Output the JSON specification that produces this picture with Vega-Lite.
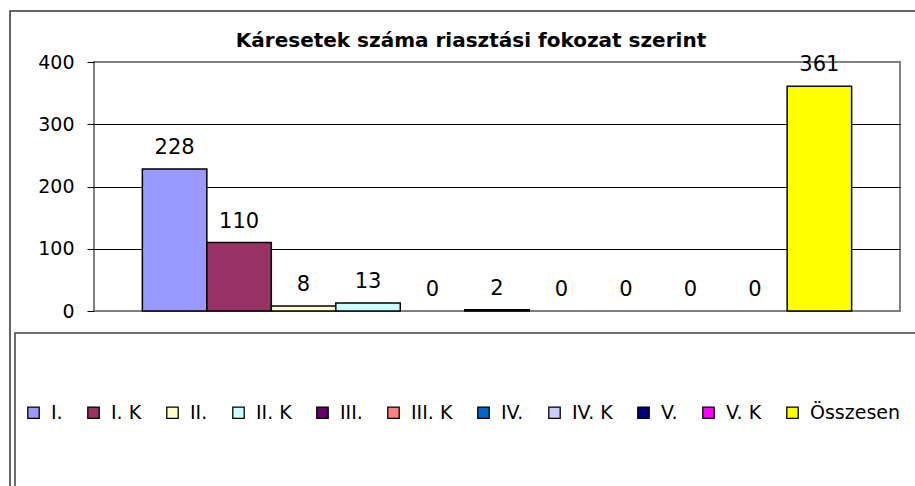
{
  "$schema": "https://vega.github.io/schema/vega-lite/v6.json",
  "width": 806,
  "height": 249,
  "autosize": {"type": "none"},
  "padding": {"left": 94, "top": 62, "right": 15, "bottom": 175},
  "background": "white",
  "title": {
    "text": "Káresetek száma riasztási fokozat szerint",
    "font": "DejaVu Sans",
    "fontSize": 20,
    "fontWeight": "bold",
    "color": "black",
    "anchor": "middle",
    "dx": -26,
    "dy": 63,
    "offset": 6,
    "baseline": "alphabetic"
  },
  "data": {
    "values": [
      {"fokozat": "I.", "kar": 228},
      {"fokozat": "I. K", "kar": 110},
      {"fokozat": "II.", "kar": 8},
      {"fokozat": "II. K", "kar": 13},
      {"fokozat": "III.", "kar": 0},
      {"fokozat": "III. K", "kar": 2},
      {"fokozat": "IV.", "kar": 0},
      {"fokozat": "IV. K", "kar": 0},
      {"fokozat": "V.", "kar": 0},
      {"fokozat": "V. K", "kar": 0},
      {"fokozat": "Összesen", "kar": 361}
    ]
  },
  "layer": [
    {
      "mark": {"type": "bar", "stroke": "black", "strokeWidth": 1.5},
      "encoding": {
        "x": {
          "field": "fokozat",
          "type": "nominal",
          "sort": ["I.", "I. K", "II.", "II. K", "III.", "III. K", "IV.", "IV. K", "V.", "V. K", "Összesen"],
          "axis": null,
          "scale": {"paddingInner": 0, "paddingOuter": 0.75}
        },
        "y": {
          "field": "kar",
          "type": "quantitative",
          "scale": {"domain": [0, 400], "nice": false},
          "axis": {
            "title": null,
            "values": [0, 100, 200, 300, 400],
            "domain": false,
            "tickColor": "black",
            "tickSize": 7,
            "tickWidth": 1,
            "labelFont": "DejaVu Sans",
            "labelFontSize": 19,
            "labelColor": "black",
            "labelPadding": 13,
            "grid": true,
            "gridColor": {"condition": {"test": "datum.value === 0 || datum.value === 400", "value": "#808080"}, "value": "black"},
            "gridWidth": 1
          }
        },
        "color": {
          "field": "fokozat",
          "type": "nominal",
          "scale": {
            "domain": ["I.", "I. K", "II.", "II. K", "III.", "III. K", "IV.", "IV. K", "V.", "V. K", "Összesen"],
            "range": ["#9999FF", "#993366", "#FFFFCC", "#CCFFFF", "#660066", "#FF8080", "#0066CC", "#CCCCFF", "#000080", "#FF00FF", "#FFFF00"]
          },
          "legend": {
            "title": null,
            "orient": "none",
            "legendX": -70,
            "legendY": 341,
            "direction": "horizontal",
            "columns": 11,
            "symbolType": "square",
            "symbolSize": 130,
            "symbolStrokeColor": "black",
            "symbolStrokeWidth": 1.3,
            "labelFont": "DejaVu Sans",
            "labelFontSize": 19,
            "labelColor": "black",
            "labelOffset": 8,
            "columnPadding": 21,
            "padding": 0,
            "labelLimit": 0
          }
        },
        "strokeOpacity": {"condition": {"test": "datum.kar > 0", "value": 1}, "value": 0}
      }
    },
    {
      "mark": {"type": "text", "font": "DejaVu Sans", "fontSize": 21, "baseline": "alphabetic", "dy": -15, "color": "black"},
      "encoding": {
        "x": {
          "field": "fokozat",
          "type": "nominal",
          "sort": ["I.", "I. K", "II.", "II. K", "III.", "III. K", "IV.", "IV. K", "V.", "V. K", "Összesen"]
        },
        "y": {"field": "kar", "type": "quantitative"},
        "text": {"field": "kar", "type": "quantitative"}
      }
    },
    {
      "mark": {"type": "point", "opacity": 0},
      "encoding": {
        "shape": {
          "datum": "keret",
          "legend": {
            "title": null,
            "orient": "none",
            "legendX": -84,
            "legendY": -51,
            "padding": 470,
            "strokeColor": "#333333",
            "symbolOpacity": 0,
            "symbolSize": 0,
            "labelOpacity": 0,
            "labelExpr": "''"
          }
        }
      }
    },
    {
      "mark": {"type": "point", "opacity": 0},
      "encoding": {
        "shape": {
          "datum": "doboz",
          "legend": {
            "title": null,
            "orient": "none",
            "legendX": -79,
            "legendY": 271,
            "padding": 470,
            "strokeColor": "#404040",
            "symbolOpacity": 0,
            "symbolSize": 0,
            "labelOpacity": 0,
            "labelExpr": "''"
          }
        }
      }
    }
  ],
  "resolve": {"scale": {"shape": "independent"}, "legend": {"shape": "independent"}},
  "config": {
    "view": {"fill": "#C0C0C0", "stroke": "#808080", "strokeWidth": 2},
    "legend": {"strokeWidth": 1.5}
  }
}
